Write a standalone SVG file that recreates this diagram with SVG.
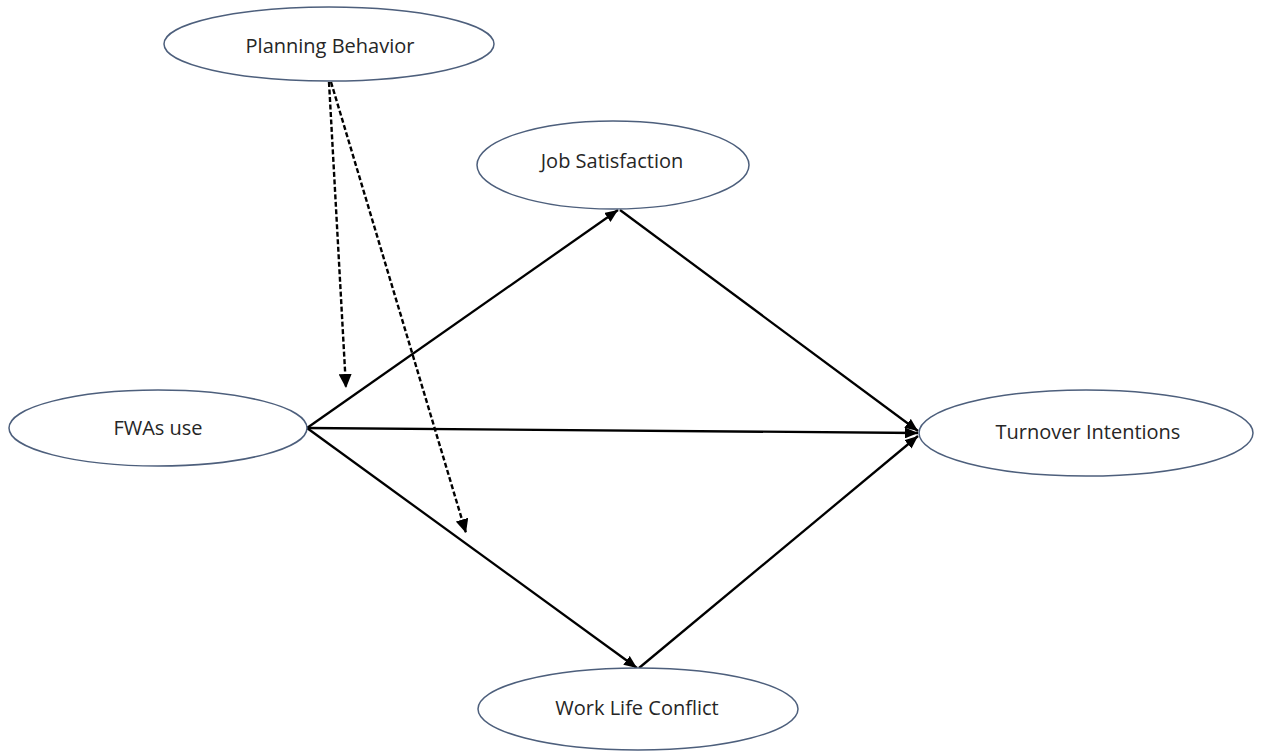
<svg xmlns="http://www.w3.org/2000/svg" width="1263" height="751" viewBox="0 0 1263 751">
  <style>
    .node ellipse { fill: #ffffff; stroke: #4d5f7c; stroke-width: 1.5; }
    .node text { font-family: "Open Sans", "Liberation Sans", sans-serif; font-size: 20px; fill: #262626; text-anchor: middle; dominant-baseline: central; }
    .solid { stroke: #000; stroke-width: 2.3; fill: none; marker-end: url(#arrow); }
    .dashed { stroke: #000; stroke-width: 2.4; fill: none; stroke-dasharray: 5 2.5; marker-end: url(#arrow-big); }
  </style>
  <defs>
    <marker id="arrow" markerUnits="userSpaceOnUse" markerWidth="13" markerHeight="11" refX="13" refY="5.5" orient="auto">
      <path d="M0,0 L13,5.5 L0,11 z" fill="#000"/>
    </marker>
    <marker id="arrow-big" markerUnits="userSpaceOnUse" markerWidth="14" markerHeight="13" refX="14" refY="6.5" orient="auto">
      <path d="M0,0 L14,6.5 L0,13 z" fill="#000"/>
    </marker>
  </defs>

  <rect width="1263" height="751" fill="#ffffff"/>

  <!-- connectors -->
  <g id="connectors">
    <line class="solid" x1="307" y1="428" x2="618" y2="210"/>
    <line class="solid" x1="620" y1="210" x2="918" y2="431"/>
    <line class="solid" x1="307" y1="428" x2="918" y2="433"/>
    <line class="solid" x1="307" y1="428" x2="637" y2="668"/>
    <line class="solid" x1="639" y1="668" x2="918" y2="436"/>
    <line class="dashed" x1="329" y1="82" x2="346" y2="388"/>
    <line class="dashed" x1="331" y1="82" x2="466" y2="533"/>
  </g>

  <!-- nodes -->
  <g id="planning-behavior" class="node">
    <ellipse cx="329" cy="44" rx="165" ry="37"/>
    <text x="330" y="45">Planning Behavior</text>
  </g>
  <g id="job-satisfaction" class="node">
    <ellipse cx="613" cy="165" rx="136" ry="44"/>
    <text x="612" y="160">Job Satisfaction</text>
  </g>
  <g id="fwas-use" class="node">
    <ellipse cx="158" cy="428" rx="149" ry="38"/>
    <text x="158" y="427">FWAs use</text>
  </g>
  <g id="turnover-intentions" class="node">
    <ellipse cx="1086" cy="433" rx="167" ry="43"/>
    <text x="1088" y="431">Turnover Intentions</text>
  </g>
  <g id="work-life-conflict" class="node">
    <ellipse cx="638" cy="709" rx="160" ry="41"/>
    <text x="637" y="707">Work Life Conflict</text>
  </g>
</svg>
